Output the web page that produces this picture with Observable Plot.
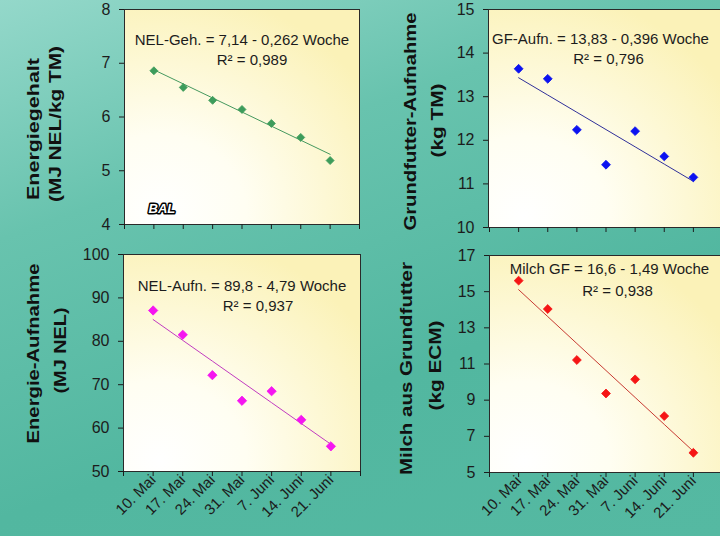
<!DOCTYPE html>
<html>
<head>
<meta charset="utf-8">
<script src="https://cdn.jsdelivr.net/npm/d3@7"></script>
<script src="https://cdn.jsdelivr.net/npm/@observablehq/plot@0.6"></script>
<style>
  body { margin: 0; }
  #chart {
    position: relative; width: 720px; height: 536px; overflow: hidden;
    background: linear-gradient(160deg, #94d8ca 0%, #68c3ae 30%, #52b7a0 65%, #55b9a2 100%);
  }
  #chart svg { position: absolute; left: 0; top: 0; }
</style>
</head>
<body>
<div id="chart"></div>
<script>
// ---- data ----
const weeks = [1, 2, 3, 4, 5, 6, 7];
const dateLabels = ["10. Mai", "17. Mai", "24. Mai", "31. Mai", "7. Juni", "14. Juni", "21. Juni"];
const xTicks = [0, 1, 2, 3, 4, 5, 6, 7, 8];

const nelGehalt   = [6.86, 6.55, 6.31, 6.14, 5.88, 5.62, 5.19];
const gfAufnahme  = [13.64, 13.41, 12.24, 11.44, 12.21, 11.63, 11.15];
const nelAufnahme = [87.1, 81.5, 72.2, 66.3, 68.5, 61.9, 55.8];
const milchGF     = [15.61, 14.04, 11.22, 9.37, 10.15, 8.12, 6.09];

const fitIntercepts = [7.14, 13.83, 89.8, 16.6];
const fitSlopes     = [-0.262, -0.396, -4.79, -1.49];

const equations = [
  "NEL-Geh. = 7,14 - 0,262 Woche",
  "GF-Aufn. = 13,83 - 0,396 Woche",
  "NEL-Aufn. = 89,8 - 4,79 Woche",
  "Milch GF = 16,6 - 1,49 Woche"
];
const r2Texts = ["R² = 0,989", "R² = 0,796", "R² = 0,937", "R² = 0,938"];

const yTitles1 = ["Energiegehalt", "Grundfutter-Aufnahme", "Energie-Aufnahme", "Milch aus Grundfutter"];
const yTitles2 = ["(MJ NEL/kg TM)", "(kg TM)", "(MJ NEL)", "(kg ECM)"];

const yDomains = [[4, 8], [10, 15], [50, 100], [5, 17]];
const yTicksTL = [4, 5, 6, 7, 8];
const yTicksTR = [10, 11, 12, 13, 14, 15];
const yTicksBL = [50, 60, 70, 80, 90, 100];
const yTicksBR = [5, 7, 9, 11, 13, 15, 17];

// ---- styling / layout ----
const FONT = "Arial, 'Liberation Sans', Helvetica, sans-serif";
const panels = [
  { id: "TL", values: nelGehalt, yTicks: yTicksTL, box: [124, 359, 9, 224], xRange: [124, 359], dates: false,
    color: "#3d9c5b", line: "#46995f", r: 3.6,
    eq: [0, 31, 10, 51], titles: [[-91, 12, 142], [-69, 7, 156]] },
  { id: "TR", values: gfAufnahme, yTicks: yTicksTR, box: [488, 720, 9, 227], xRange: [489, 722], dates: false,
    color: "#0b12f0", line: "#30309a", r: 4,
    eq: [-4, 29.5, 4, 49.5], titles: [[-78, 3, 218], [-51, 2, 74]] },
  { id: "BL", values: nelAufnahme, yTicks: yTicksBL, box: [123, 360, 254, 471], xRange: [123, 360], dates: true,
    color: "#f515f0", line: "#c23cc0", r: 4.2,
    eq: [0, 31.5, 16, 51.5], titles: [[-90, -9.5, 180], [-63, -12.5, 86]] },
  { id: "BR", values: milchGF, yTicks: yTicksBR, box: [489, 720, 255, 472], xRange: [489, 722], dates: true,
    color: "#f51515", line: "#c83a32", r: 4,
    eq: [4.5, 13.5, 12.5, 35.5], titles: [[-83, 4.5, 213], [-54, 1.5, 90]] }
];

const chart = document.getElementById("chart");

panels.forEach((p, k) => {
  const data = weeks.map((w, i) => ({ week: w, value: p.values[i] }));
  const fit = weeks.map(w => ({ week: w, value: fitIntercepts[k] + fitSlopes[k] * w }));
  const gradId = "plotbg" + p.id;

  const defsMark = () => {
    const defs = d3.create("svg:defs");
    const g = defs.append("radialGradient").attr("id", gradId)
      .attr("cx", "0.15").attr("cy", "0.95").attr("r", "1.05");
    g.append("stop").attr("offset", "0").attr("stop-color", "#ffffff");
    g.append("stop").attr("offset", "0.35").attr("stop-color", "#fffef2");
    g.append("stop").attr("offset", "1").attr("stop-color", "#fbf2b8");
    return defs.node();
  };

  const svg = Plot.plot({
    width: 720, height: 536,
    marginLeft: p.box[0], marginRight: 720 - p.box[1], marginTop: p.box[2], marginBottom: 536 - p.box[3],
    x: { domain: [0, 8], range: p.xRange },
    y: { domain: yDomains[k] },
    style: { background: "transparent", fontFamily: FONT, overflow: "hidden" },
    marks: [
      defsMark,
      Plot.frame({ fill: `url(#${gradId})`, stroke: "#2a2a2a", strokeWidth: 1 }),
      Plot.axisY({ ticks: p.yTicks, tickFormat: d => String(d), tickSize: 5, tickPadding: 9, fontSize: 16,
        color: "#1c1c1c", label: null }),
      Plot.axisX({ ticks: xTicks, tickSize: 5, tickPadding: 1, tickRotate: -45, fontSize: 15, color: "#1c1c1c", label: null,
        tickFormat: p.dates ? (d => dateLabels[d - 1] ?? "") : (() => "") }),
      Plot.line(fit, { x: "week", y: "value", stroke: p.line, strokeWidth: 1 }),
      Plot.dot(data, { x: "week", y: "value", symbol: "diamond2", r: p.r, fill: p.color, stroke: p.color, strokeWidth: 0.8 }),
      Plot.text([equations[k]], { text: d => d, frameAnchor: "top", lineAnchor: "middle", textAnchor: "middle",
        dx: p.eq[0], dy: p.eq[1], fontSize: 15, fill: "#1c1c1c" }),
      Plot.text([r2Texts[k]], { text: d => d, frameAnchor: "top", lineAnchor: "middle", textAnchor: "middle",
        dx: p.eq[2], dy: p.eq[3], fontSize: 15, fill: "#1c1c1c" }),
      Plot.text([yTitles1[k]], { text: d => d, frameAnchor: "left", rotate: -90, textAnchor: "middle", lineAnchor: "middle",
        dx: p.titles[0][0], dy: p.titles[0][1], fontSize: 16, fontWeight: "bold", fill: "#111" }),
      Plot.text([yTitles2[k]], { text: d => d, frameAnchor: "left", rotate: -90, textAnchor: "middle", lineAnchor: "middle",
        dx: p.titles[1][0], dy: p.titles[1][1], fontSize: 16, fontWeight: "bold", fill: "#111" }),
      ...(p.id === "TL" ? [Plot.text(["BAL"], { text: d => d, frameAnchor: "bottom-left", dx: 24, dy: -12,
        fontSize: 13, fontWeight: "bold", fontStyle: "italic", fill: "#fff", stroke: "#000", strokeWidth: 3, paintOrder: "stroke" })] : [])
    ]
  });

  // stretch the rotated axis titles to their lengths in the reference
  const sel = d3.select(svg);
  [[yTitles1[k], p.titles[0][2]], [yTitles2[k], p.titles[1][2]]].forEach(([t, len]) => {
    sel.selectAll("text").filter(function () { return this.textContent === t; })
      .attr("textLength", len).attr("lengthAdjust", "spacingAndGlyphs");
  });

  chart.appendChild(svg);
});
</script>
</body>
</html>
